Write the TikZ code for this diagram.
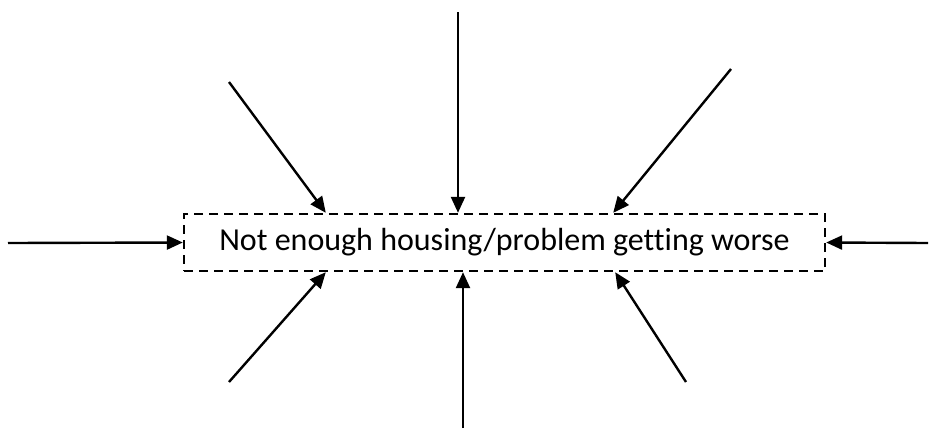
\documentclass[tikz,border=0pt]{standalone}
\usepackage{fontspec}
\setmainfont{Carlito}[Ligatures=NoCommon]
\usetikzlibrary{arrows.meta}
\begin{document}
\begin{tikzpicture}[x=1pt, y=-1pt,
    cause/.style={-{Triangle[length=16pt,width=14pt]}, line width=2.4pt},
    issue/.style={draw, line width=2.4pt, dash pattern=on 9pt off 6pt, minimum width=641pt, minimum height=57pt, inner sep=0pt, font=\fontsize{32}{38}\selectfont},
]
\useasboundingbox (0,0) rectangle (932,432);
\node[issue] (gap) at (504.5,242.5) {Not enough housing/problem getting worse};
% loose ends of the arrows
\coordinate (w) at (8,243);
\coordinate (e) at (928,243);
\coordinate (n) at (458,12);
\coordinate (nw) at (229,82);
\coordinate (ne) at (731,69);
\coordinate (s) at (463,428);
\coordinate (sw) at (229,382);
\coordinate (se) at (686,382);
% where they meet the box
\coordinate (nwend) at ([xshift=143pt]gap.north west);
\coordinate (neend) at ([xshift=-213pt]gap.north east);
\coordinate (swend) at ([xshift=143pt]gap.south west);
\coordinate (seend) at ([xshift=-211pt]gap.south east);
\draw[cause] (w) -- (gap.west);
\draw[cause] (e) -- (gap.east);
\draw[cause] (n) -- (n |- gap.north);
\draw[cause] (s) -- (s |- gap.south);
\draw[cause] (nw) -- (nwend);
\draw[cause] (ne) -- (neend);
\draw[cause] (sw) -- (swend);
\draw[cause] (se) -- (seend);
\end{tikzpicture}
\end{document}
